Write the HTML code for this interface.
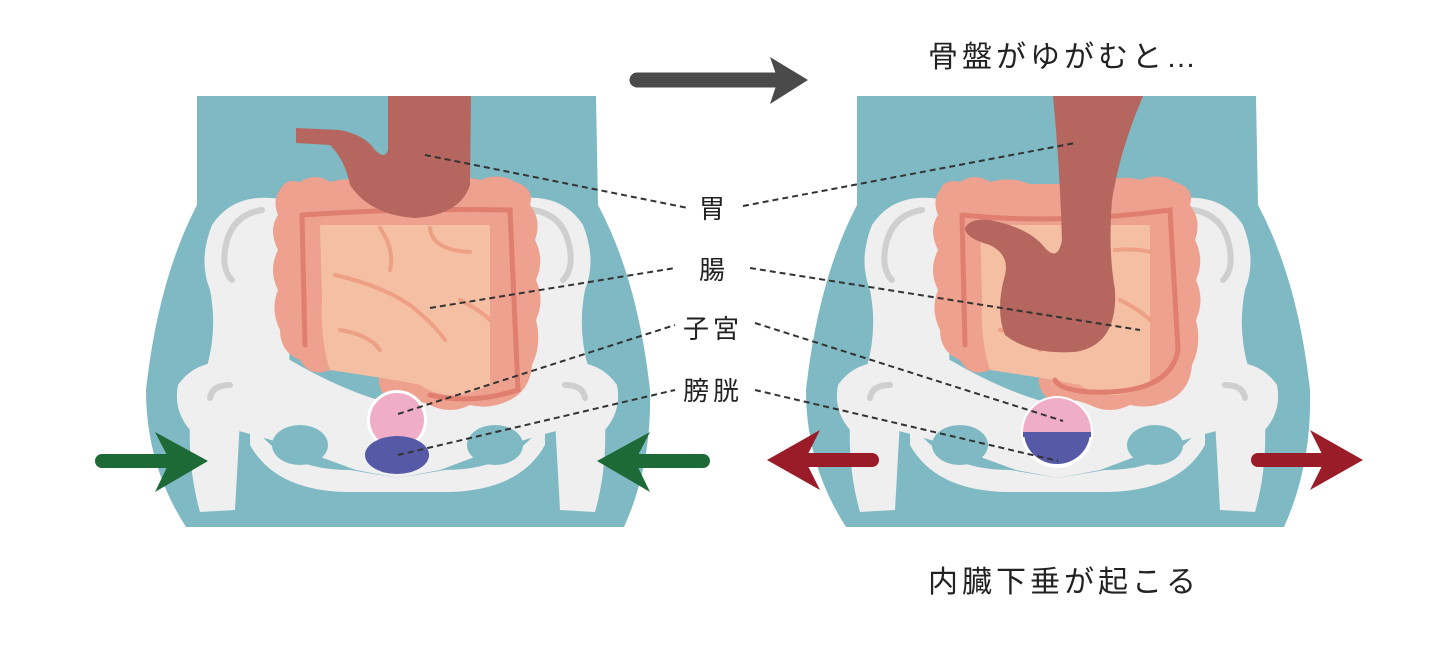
<!DOCTYPE html>
<html><head><meta charset="utf-8"><style>
html,body{margin:0;padding:0;background:#fff;}
svg{display:block}
text{font-family:"Liberation Sans","Noto Sans CJK JP",sans-serif;fill:#222;}
</style></head><body>
<svg width="1440" height="668" viewBox="0 0 1440 668" xmlns="http://www.w3.org/2000/svg">
<defs>
<g id="torso">
  <path d="M197,96 L596,96 L598,205 Q638,280 650,390 Q652,465 624,527 L186,527 Q146,465 146,390 Q158,280 197,205 Z" fill="#7fb9c3"/>
</g>
<g id="pelvis">
  <path d="M285,200 Q235,190 212,225 Q198,260 210,290 Q218,330 206,370 L290,380 Z" fill="#efefef"/>
  <path d="M510,200 Q560,190 583,225 Q597,260 585,290 Q577,330 589,370 L505,380 Z" fill="#efefef"/>
  <path d="M262,210 Q230,215 225,250 Q222,270 232,280" stroke="#cfcfcf" stroke-width="6" fill="none" stroke-linecap="round"/>
  <path d="M533,210 Q565,215 570,250 Q573,270 563,280" stroke="#cfcfcf" stroke-width="6" fill="none" stroke-linecap="round"/>
  <path d="M178,385 Q195,360 230,362 L290,360 Q350,395 398,405 Q445,395 505,360 L565,362 Q600,360 617,385 Q622,410 605,430 L560,430 Q520,440 480,455 L440,470 L398,478 L356,470 L315,455 Q275,440 235,430 L190,430 Q173,410 178,385 Z" fill="#efefef"/>
  <path d="M190,420 L240,420 L235,510 L200,512 Q188,470 190,420 Z" fill="#efefef"/>
  <path d="M605,420 L555,420 L560,510 L595,512 Q607,470 605,420 Z" fill="#efefef"/>
  <path d="M250,420 Q280,470 350,470 L398,478 L445,470 Q515,470 545,420 L545,445 Q520,490 450,492 L398,492 L345,492 Q275,490 250,445 Z" fill="#efefef"/>
  <ellipse cx="300" cy="445" rx="28" ry="20" fill="#7fb9c3"/>
  <ellipse cx="495" cy="445" rx="28" ry="20" fill="#7fb9c3"/>
  <path d="M230,385 Q212,385 210,398" stroke="#cfcfcf" stroke-width="6" fill="none" stroke-linecap="round"/>
  <path d="M565,385 Q583,385 585,398" stroke="#cfcfcf" stroke-width="6" fill="none" stroke-linecap="round"/>
</g>
</defs>

<use href="#torso"/>
<use href="#pelvis"/>
<path d="M280,190 Q285,178 300,182 Q315,172 330,182 Q350,176 370,184 L440,184 Q460,174 480,180 Q500,172 515,182 Q535,188 530,205 Q542,220 535,240 Q545,260 536,280 Q545,300 536,320 Q542,345 532,365 Q530,390 510,400 Q490,410 470,405 Q450,415 430,405 Q405,395 390,400 Q375,390 380,370 L330,370 Q310,378 300,360 Q280,352 280,330 Q270,310 278,290 Q268,270 278,250 Q268,230 278,215 Q272,200 280,190 Z" fill="#eea18e"/>
<path d="M320,225 L490,225 L490,385 Q450,405 420,385 L395,380 L330,370 Q320,340 322,300 Z" fill="#f4bfa3"/>
<path d="M302,215 L305,345 M302,215 Q400,208 510,210 L518,390 Q470,405 430,395" stroke="#e07f70" stroke-width="5" fill="none" stroke-linecap="round"/>
<path d="M335,275 Q380,285 410,305 Q435,325 445,340 M340,330 Q370,335 380,350 M380,228 Q395,250 390,270 M430,228 Q432,250 470,252 M460,300 Q480,310 490,320" stroke="#eda084" stroke-width="4" fill="none" stroke-linecap="round"/>
<path d="M388,96 L471,96 L470,185 Q460,215 415,218 Q370,215 350,185 Q345,160 330,145 L296,143 L296,128 L340,130 Q365,135 375,150 Q385,160 388,150 Z" fill="#b5665e"/>
<ellipse cx="397" cy="420" rx="30" ry="30" fill="#fff"/>
<ellipse cx="397" cy="420" rx="27" ry="27" fill="#f0adc6"/>
<ellipse cx="397" cy="455" rx="32" ry="19" fill="#5659a6"/>
<line x1="102" y1="461" x2="170" y2="461" stroke="#1e6a37" stroke-width="14" stroke-linecap="round"/>
<path d="M208,461 L155,432 L170,461 L155,492 Z" fill="#1e6a37"/>
<line x1="703" y1="461" x2="635" y2="461" stroke="#1e6a37" stroke-width="14" stroke-linecap="round"/>
<path d="M597,461 L650,432 L635,461 L650,492 Z" fill="#1e6a37"/>

<g transform="translate(660,0)">
<use href="#torso"/>
<use href="#pelvis"/>
<path d="M280,190 Q285,178 300,182 Q315,172 330,182 Q350,176 370,184 L440,184 Q460,174 480,180 Q500,172 515,182 Q535,188 530,205 Q542,220 535,240 Q545,260 536,280 Q545,300 536,320 Q542,345 532,365 Q530,390 510,400 Q490,410 470,405 Q450,415 430,405 Q405,395 390,400 Q375,390 380,370 L330,370 Q310,378 300,360 Q280,352 280,330 Q270,310 278,290 Q268,270 278,250 Q268,230 278,215 Q272,200 280,190 Z" fill="#eea18e"/>
<path d="M320,225 L490,225 L490,385 Q450,405 420,385 L395,380 L330,370 Q320,340 322,300 Z" fill="#f4bfa3"/>
<path d="M302,215 L305,345 M302,215 Q400,225 510,210 L518,350 Q510,395 430,392 Q400,390 395,380" stroke="#e07f70" stroke-width="5" fill="none" stroke-linecap="round"/>
<path d="M340,330 Q370,335 380,350 M460,300 Q480,310 490,320 M455,250 Q475,248 490,252" stroke="#eda084" stroke-width="4" fill="none" stroke-linecap="round"/>
</g>
<path d="M1053,96 L1143,96 Q1120,150 1112,200 Q1108,250 1115,290 Q1118,345 1075,352 Q1030,355 1005,335 Q995,310 1005,275 Q1010,255 990,245 Q965,238 965,228 Q970,218 990,220 Q1030,228 1045,248 Q1058,262 1062,240 Q1060,170 1053,96 Z" fill="#b5665e"/>
<circle cx="1057" cy="432" r="36" fill="#fff"/>
<path d="M1023,432 A34,34 0 0 1 1091,432 Z" fill="#f0adc6"/>
<path d="M1024,432 A33,32 0 0 0 1090,432 Z" fill="#5659a6"/>
<path d="M1023,432 L1091,432 L1091,437 L1023,437Z" fill="#5659a6"/>
<line x1="872" y1="460" x2="805" y2="460" stroke="#9a1c28" stroke-width="14" stroke-linecap="round"/>
<path d="M767,460 L820,430 L805,460 L820,490 Z" fill="#9a1c28"/>
<line x1="1258" y1="460" x2="1325" y2="460" stroke="#9a1c28" stroke-width="14" stroke-linecap="round"/>
<path d="M1363,460 L1310,430 L1325,460 L1310,490 Z" fill="#9a1c28"/>

<line x1="637" y1="80" x2="775" y2="80" stroke="#4a4a4a" stroke-width="15" stroke-linecap="round"/>
<path d="M808,80 L770,57 L778,80 L770,104 Z" fill="#4a4a4a"/>

<g stroke="#333" stroke-width="2" stroke-dasharray="6,4" fill="none">
<line x1="425" y1="155" x2="688" y2="208"/>
<line x1="430" y1="308" x2="675" y2="268"/>
<line x1="398" y1="414" x2="675" y2="325"/>
<line x1="398" y1="455" x2="675" y2="390"/>
<line x1="743" y1="206" x2="1075" y2="143"/>
<line x1="750" y1="268" x2="1140" y2="330"/>
<line x1="755" y1="323" x2="1063" y2="421"/>
<line x1="755" y1="390" x2="1058" y2="461"/>
</g>

<g font-size="26">
<text x="699" y="218">胃</text>
<text x="699" y="279">腸</text>
<text x="683" y="338" letter-spacing="4">子宮</text>
<text x="683" y="400" letter-spacing="4">膀胱</text>
</g>
<text x="928" y="67" font-size="30" letter-spacing="4">骨盤がゆがむと…</text>
<text x="928" y="592" font-size="30" letter-spacing="4">内臓下垂が起こる</text>
</svg>
</body></html>
